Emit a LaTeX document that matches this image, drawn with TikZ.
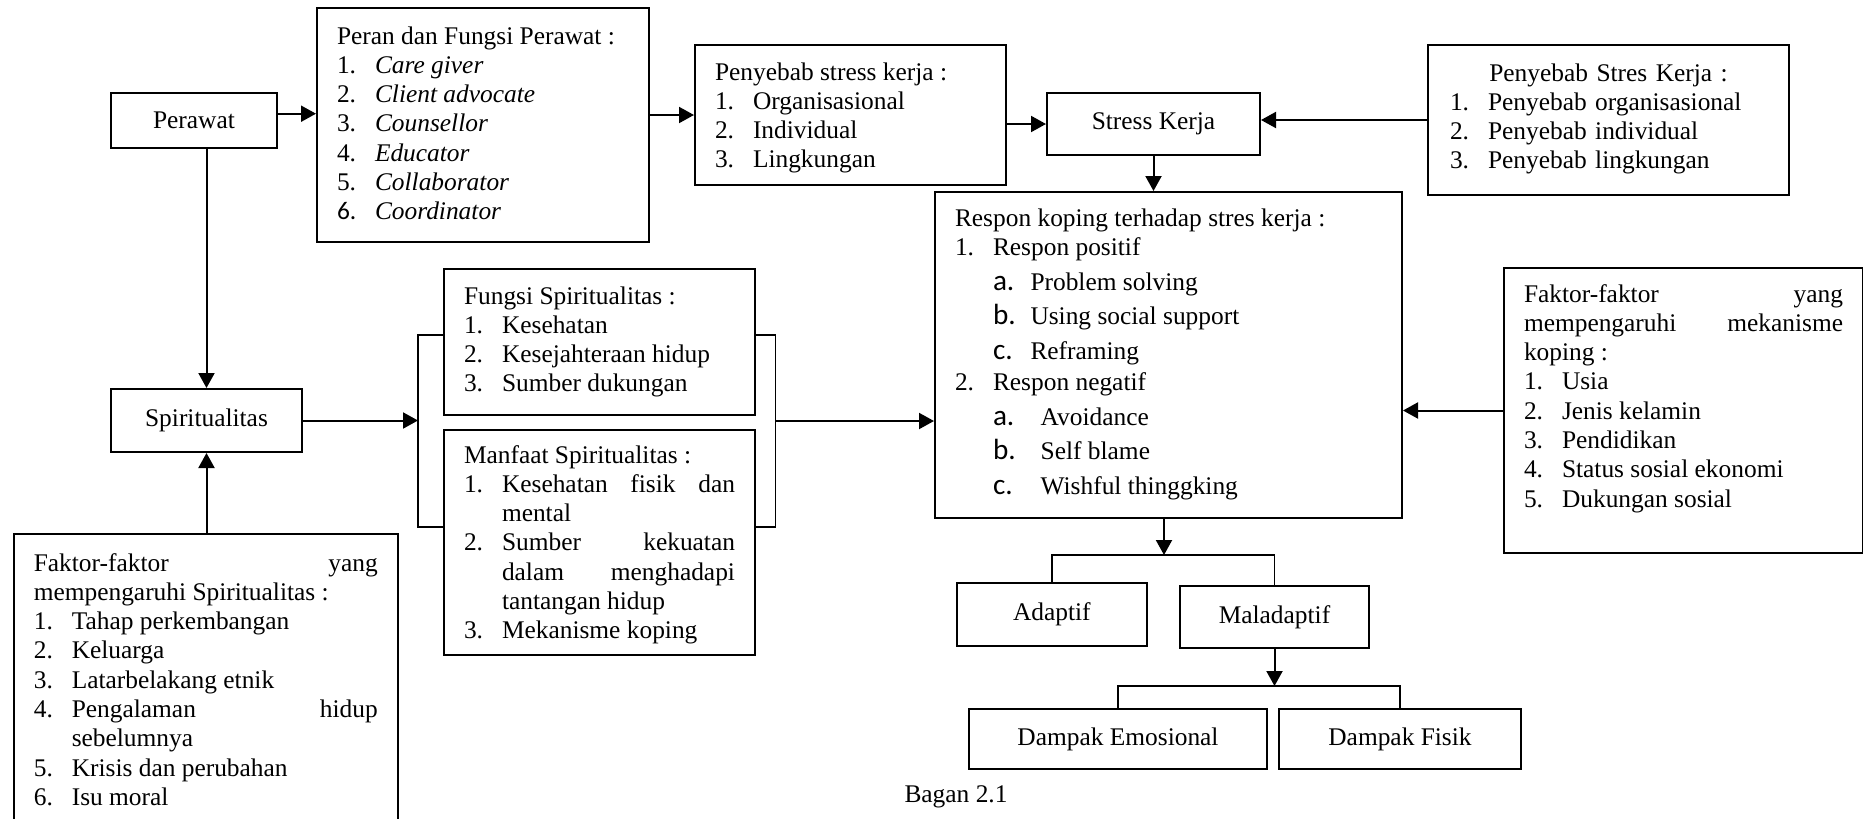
\documentclass[tikz,border=0pt]{standalone}
\usepackage{fontspec}
\setmainfont{Liberation Serif}
\newfontfamily\calib{Carlito}
\usetikzlibrary{arrows.meta,positioning}
\tolerance=10000
\hbadness=10000
\newcommand{\itm}[2]{\par\hangindent=19pt\hangafter=1\noindent\hbox to 19pt{#1\hfil}#2}
\newcommand{\subitm}[3]{\par\vspace{2.7pt}\hangindent=38pt\hangafter=1\noindent\hspace*{19pt}\hbox to #1{{\calib\fontsize{14.6}{14.65}\selectfont #2}\hfil}#3}
\tikzset{
  box/.style={draw,line width=1pt,inner sep=0pt},
  listbox/.style={box,anchor=north west,inner xsep=10pt,align=justify},
  arr/.style={line width=1pt,-{Triangle[length=7.5pt,width=8pt]}}
}
\begin{document}
\begin{tikzpicture}[x=0.5pt,y=-0.5pt,font=\fontsize{12.7}{14.65}\selectfont]
\useasboundingbox (0,0) rectangle (1863,819);
\node[box,minimum width=83pt,minimum height=27.5pt] (perawat) at (194,120.5) {Perawat};
\node[listbox,text width=146pt,text height=18pt,text depth=99pt] (peran) at (316,7) {Peran dan Fungsi Perawat :
\itm{1.}{\textit{Care giver}}
\itm{2.}{\textit{Client advocate}}
\itm{3.}{\textit{Counsellor}}
\itm{4.}{\textit{Educator}}
\itm{5.}{\textit{Collaborator}}
\itm{\calib 6.}{\textit{Coordinator}}};
\node[listbox,text width=135.5pt,text height=17.5pt,text depth=52.5pt] (penyebab) at (694,44) {Penyebab stress kerja :
\itm{1.}{Organisasional}
\itm{2.}{Individual}
\itm{3.}{Lingkungan}};
\node[box,minimum width=106.5pt,minimum height=31pt] (stress) at (1153.5,124) {Stress Kerja};
\node[listbox,align=left,inner xsep=11pt,text width=158.5pt,text height=18pt,text depth=57pt] (kausa) at (1427,44) {{\centering Penyebab Stres Kerja :\par}
\itm{1.}{Penyebab organisasional}
\itm{2.}{Penyebab individual}
\itm{3.}{Penyebab lingkungan}};
\node[listbox,text width=213.5pt,text height=17pt,text depth=146pt] (respon) at (934,191) {Respon koping terhadap stres kerja :
\itm{1.}{Respon positif}
\subitm{18.75pt}{a.}{Problem solving}
\subitm{18.75pt}{b.}{Using social support}
\subitm{18.75pt}{c.}{Reframing}
\par\vspace{0.8pt}\itm{2.}{Respon negatif}
\subitm{23.85pt}{a.}{Avoidance}
\subitm{23.85pt}{b.}{Self blame}
\subitm{23.85pt}{c.}{Wishful thinggking}};
\node[listbox,text width=159.5pt,text height=17pt,text depth=125.5pt] (faktorkop) at (1503,267) {Faktor-faktor yang\linebreak mempengaruhi mekanisme\linebreak koping :
\itm{1.}{Usia}
\itm{2.}{Jenis kelamin}
\itm{3.}{Pendidikan}
\itm{4.}{Status sosial ekonomi}
\itm{5.}{Dukungan sosial}};
\node[box,minimum width=95.5pt,minimum height=31.5pt] (spirit) at (206.5,420.5) {Spiritualitas};
\node[listbox,text width=135.5pt,text height=17.5pt,text depth=55.5pt] (fungsi) at (443,268) {Fungsi Spiritualitas :
\itm{1.}{Kesehatan}
\itm{2.}{Kesejahteraan hidup}
\itm{3.}{Sumber dukungan}};
\node[listbox,text width=135.5pt,text height=16.5pt,text depth=96pt] (manfaat) at (443,429) {Manfaat Spiritualitas :
\itm{1.}{Kesehatan fisik dan\linebreak mental}
\itm{2.}{Sumber kekuatan\linebreak dalam menghadapi\linebreak tantangan hidup}
\itm{3.}{Mekanisme koping}};
\node[listbox,text width=172pt,text height=18.5pt,text depth=140pt] (faktorsp) at (12.8,533) {Faktor-faktor yang\linebreak mempengaruhi Spiritualitas :
\itm{1.}{Tahap perkembangan}
\itm{2.}{Keluarga}
\itm{3.}{Latarbelakang etnik}
\itm{4.}{Pengalaman hidup\linebreak sebelumnya}
\itm{5.}{Krisis dan perubahan}
\itm{6.}{Isu moral}};
\node[box,minimum width=95.2pt,minimum height=31.5pt] (adaptif) at (1051.8,614.5) {Adaptif};
\node[box,minimum width=94.5pt,minimum height=31pt] (maladaptif) at (1274.5,617) {Maladaptif};
\node[box,minimum width=149pt,minimum height=30pt] (emosional) at (1118,739) {Dampak Emosional};
\node[box,minimum width=121pt,minimum height=30pt] (fisik) at (1400,739) {Dampak Fisik};
\node (bagan) at (956,797) {Bagan 2.1};
\coordinate (p1) at ([yshift=3.4pt]perawat.east);
\coordinate (brl) at (418,421);
\coordinate (brr) at (775.5,421);
\coordinate (fork1) at (1164,555);
\coordinate (fork2) at (1274.5,686);
\draw[line width=0.6pt] (443,335) -| (418,527) -- (443,527);
\draw[line width=0.6pt] (754,335) -| (775.5,527) -- (754,527);
\draw[arr] (p1) -- (p1 -| peran.west);
\draw[arr] (peran.east |- penyebab.west) -- (penyebab.west);
\draw[arr] (penyebab.east |- stress.west) -- (stress.west);
\draw[arr] (kausa.west) -- (kausa.west -| stress.east);
\draw[arr] (stress.south) -- (stress.south |- respon.north);
\draw[arr] (faktorkop.west) -- (faktorkop.west -| respon.east);
\draw[arr] (spirit.north |- perawat.south) -- (spirit.north);
\draw[arr] (faktorsp.north -| spirit.south) -- (spirit.south);
\draw[arr] (spirit.east) -- (spirit.east -| brl);
\draw[arr] (brr) -- (brr -| respon.west);
\draw[arr] (fork1 |- respon.south) -- (fork1);
\draw[line width=0.8pt] (adaptif.north) |- (fork1) -| (maladaptif.north);
\draw[arr] (maladaptif.south) -- (fork2);
\draw[line width=0.8pt] (emosional.north) |- (fork2) -| (fisik.north);
\end{tikzpicture}
\end{document}
